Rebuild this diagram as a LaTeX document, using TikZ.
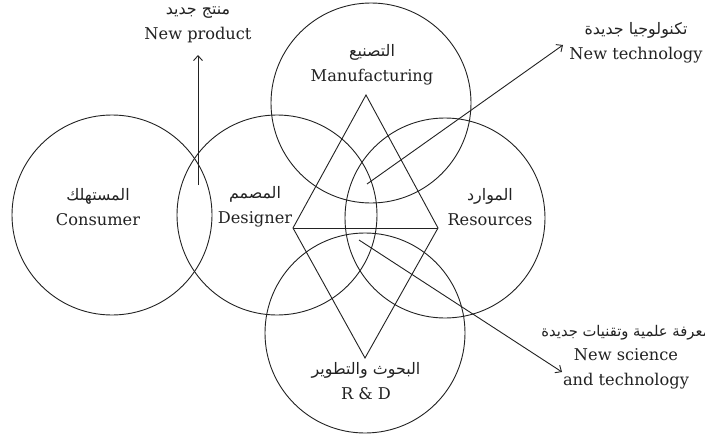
\documentclass[tikz,border=0pt]{standalone}
\usepackage{fontspec}
\setmainfont{DejaVu Serif}
\newfontfamily\arabicfont[Script=Arabic,Scale=0.98]{DejaVu Sans}
\newfontfamily\arabicsmall[Script=Arabic,Scale=0.91]{DejaVu Sans}
\TeXXeTstate=1
\usetikzlibrary{arrows.meta}
\newcommand\artxt[1]{{\arabicfont\beginR #1\endR}}
\newcommand\artxtsm[1]{{\arabicsmall\beginR #1\endR}}
\definecolor{ink}{HTML}{222222}
\begin{document}
\begin{tikzpicture}[x=1pt,y=-1pt,
  circ/.style={draw=ink,line width=0.9pt,circle,minimum size=200pt,inner sep=0pt},
  lab/.style={text=ink,align=center,inner sep=0pt,font=\fontsize{16.2}{24.5}\selectfont},
  arr/.style={draw=ink,line width=0.9pt,-{Straight Barb[length=5pt,width=9pt]}},
  edge/.style={draw=ink,line width=0.9pt,line join=miter}]
\useasboundingbox (0,0) rectangle (705,439);
\fill[white] (0,0) rectangle (705,439);
% circles
\node[circ] (cons) at (112,215) {};
\node[circ] (des) at (277,215) {};
\node[circ] (man) at (371,103) {};
\node[circ] (res) at (445,218) {};
\node[circ] (rd) at (365,333) {};
% rhombus
\coordinate (dt) at (366,95);
\coordinate (dl) at (293,228);
\coordinate (dr) at (438,228);
\coordinate (db) at (365,358);
\draw[edge] (dt) -- (dr) -- (db) -- (dl) -- cycle;
\draw[edge] (dl) -- (dr);
% labels
\node[lab] (consl) at (98,207) {\artxt{المستهلك}\\Consumer};
\node[lab] (desl) at (255,207) {\artxt{المصمم}\\Designer};
\node[lab] (manl) at (372,65) {\artxt{التصنيع}\\Manufacturing};
\node[lab] (resl) at (490,207) {\artxt{الموارد}\\Resources};
\node[lab] (rdl) at (366,381) {\artxt{البحوث والتطوير}\\R \& D};
\node[lab] (npl) at (198,25) {\artxt{منتج جديد}\\New product};
\node[lab] (ntl) at (636,43) {\artxt{تكنولوجيا جديدة}\\New technology};
\node[lab] (nsl) at (626,357) {\artxtsm{معرفة علمية وتقنيات جديدة}\\New science\\and technology};
% arrows
\coordinate (np0) at (198,185);
\coordinate (np1) at (198,55);
\coordinate (nt0) at (367,184);
\coordinate (nt1) at (563,45);
\coordinate (ns0) at (359,240);
\coordinate (ns1) at (562,372);
\draw[arr] (np0) -- (np1);
\draw[arr] (nt0) -- (nt1);
\draw[arr] (ns0) -- (ns1);
\end{tikzpicture}
\end{document}
